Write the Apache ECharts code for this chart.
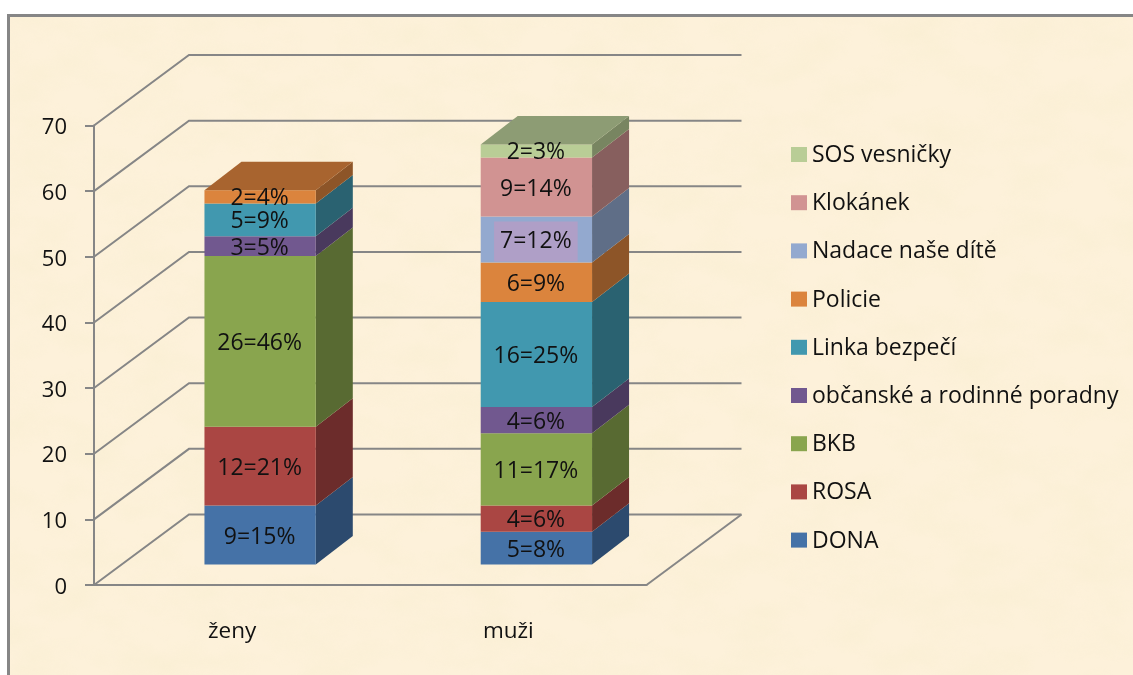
<!DOCTYPE html>
<html><head><meta charset="utf-8">
<style>
html,body{margin:0;padding:0;background:#fff;width:1133px;height:675px;overflow:hidden}
#paper{position:absolute;left:7px;top:14px;width:1126px;height:661px;box-sizing:border-box;border-left:3px solid #868686;border-top:3px solid #868686;background-color:#FDF1DA;
background-image:url("data:image/svg+xml,%3Csvg xmlns='http://www.w3.org/2000/svg' width='1126' height='661'%3E%3Cfilter id='n' x='0' y='0' width='100%25' height='100%25'%3E%3CfeTurbulence type='fractalNoise' baseFrequency='0.018 0.03' numOctaves='4' seed='7'/%3E%3CfeColorMatrix type='matrix' values='0 0 0 0 0.93  0 0 0 0 0.85  0 0 0 0 0.62  1.5 0 0 0 -0.55'/%3E%3C/filter%3E%3Crect width='1126' height='661' filter='url(%23n)' opacity='0.55'/%3E%3C/svg%3E")}
#main{position:absolute;left:0;top:0;width:1133px;height:675px}
</style>
<script src="https://cdn.jsdelivr.net/npm/echarts@6/dist/echarts.min.js"></script>
</head><body>
<div id="paper"></div><div id="main"></div>
<script>
const categories = ['ženy', 'muži'];
const seriesNames = ['DONA','ROSA','BKB','občanské a rodinné poradny','Linka bezpečí','Policie','Nadace naše dítě','Klokánek','SOS vesničky'];
const legendOrder = ['SOS vesničky','Klokánek','Nadace naše dítě','Policie','Linka bezpečí','občanské a rodinné poradny','BKB','ROSA','DONA'];
const zenyValues = [9, 12, 26, 3, 5, 2, 0, 0, 0];
const muziValues = [5, 4, 11, 4, 16, 6, 7, 9, 2];
const zenyLabels = ['9=15%','12=21%','26=46%','3=5%','5=9%','2=4%','','',''];
const muziLabels = ['5=8%','4=6%','11=17%','4=6%','16=25%','6=9%','7=12%','9=14%','2=3%'];
const yTicks = [0,10,20,30,40,50,60,70];
const frontColors = ['#4572A7','#AA4643','#89A54E','#71588F','#4198AF','#DB843D','#93A9CF','#D19392','#B9CD96'];
const sideColors = ['#2C4A6E','#6C2C2B','#586A32','#49395D','#2A6271','#8D5528','#5F6E87','#875F5E','#788561'];
const topColors = ['#365A85','#84372F','#6D8340','#594672','#337A8C','#A8642F','#7485A4','#A37372','#8D9C74'];

const FONT = '"Open Sans", "Noto Sans", sans-serif';
const wallDX = 95, wallDY = 70.5;      // depth of the floor and walls
const barDX = 37, barDY = 28.5;        // depth of a bar
const barShiftX = 28, barShiftY = 20.5; // bars stand in the middle of the floor
const barRatio = 0.403;
const GRAY = '#868686';

function wallItem(params, api) {
  const cs = params.coordSys;
  const v = api.value(0);
  const y = api.coord([0, v])[1];
  const x0 = cs.x;
  const children = [{
    type: 'polyline',
    shape: { points: [[x0, y], [x0 + wallDX, y - wallDY], [x0 + cs.width + wallDX, y - wallDY]] },
    style: { stroke: GRAY, lineWidth: 2, fill: 'none' }
  }];
  if (v === 0) {
    children.push({
      type: 'line',
      shape: { x1: x0 + cs.width, y1: y, x2: x0 + cs.width + wallDX, y2: y - wallDY },
      style: { stroke: GRAY, lineWidth: 2 }
    });
  }
  return { type: 'group', children };
}

function barItem(si) {
  return function (params, api) {
    const cat = api.value(0), base = api.value(1), top = api.value(2), isTop = api.value(3);
    const label = cat === 0 ? zenyLabels[si] : muziLabels[si];
    const c = api.coord([cat, base]);
    const t = api.coord([cat, top]);
    const w = api.size([1, 0])[0] * barRatio;
    const x1 = c[0] + barShiftX - w / 2, x2 = x1 + w;
    const yb = c[1] - barShiftY, yt = t[1] - barShiftY;
    const ch = [
      { type: 'polygon', shape: { points: [[x2, yb], [x2 + barDX, yb - barDY], [x2 + barDX, yt - barDY], [x2, yt]] }, style: { fill: sideColors[si] } },
      { type: 'rect', shape: { x: x1, y: yt, width: w, height: yb - yt }, style: { fill: frontColors[si] } }
    ];
    if (isTop) {
      ch.push({ type: 'polygon', shape: { points: [[x1, yt], [x2, yt], [x2 + barDX, yt - barDY], [x1 + barDX, yt - barDY]] }, style: { fill: topColors[si] } });
    }
    const ts = { text: label, x: (x1 + x2) / 2 - 0.5, y: (yt + yb) / 2 + 2, align: 'center', verticalAlign: 'middle', fill: '#111', font: '23px ' + FONT };
    if (label === '7=12%') { ts.backgroundColor = '#AF9FC7'; ts.padding = [8, 6, 9, 6]; }
    ch.push({ type: 'text', style: ts });
    return { type: 'group', children: ch };
  };
}

const allValues = [zenyValues, muziValues];
const wallSeries = { type: 'custom', name: 'walls', silent: true, z: 1, renderItem: wallItem, data: yTicks.map(v => [v]), encode: { y: 0 }, animation: false };
const barSeries = seriesNames.map((name, si) => ({
  type: 'custom', name, z: 2, silent: true, animation: false,
  itemStyle: { color: frontColors[si] },
  renderItem: barItem(si),
  encode: { x: 0, y: [1, 2] },
  data: allValues.map((vals, cat) => {
    if (!vals[si]) return null;
    const base = vals.slice(0, si).reduce((a, b) => a + b, 0);
    const isTop = vals.slice(si + 1).every(v => !v) ? 1 : 0;
    return [cat, base, base + vals[si], isTop];
  }).filter(Boolean)
}));

const chart = echarts.init(document.getElementById('main'), null, { renderer: 'canvas' });
chart.setOption({
  animation: false,
  backgroundColor: 'transparent',
  textStyle: { fontFamily: FONT },
  grid: { left: 94, right: 486.5, top: 125.5, bottom: 90, containLabel: false },
  legend: {
    data: legendOrder.map(n => ({ name: n, icon: 'rect' })),
    orient: 'vertical', left: 791, top: 142,
    itemWidth: 16, itemHeight: 15, itemGap: 23.2, padding: 0,
    selectedMode: false,
    formatter: '{a|{name}}',
    textStyle: { fontFamily: FONT, fontSize: 23, color: '#111',
      rich: { a: { fontFamily: FONT, fontSize: 23, color: '#111', lineHeight: 23, padding: [2, 0, 0, 0] } } }
  },
  xAxis: {
    type: 'category', data: categories,
    axisLine: { lineStyle: { color: GRAY, width: 2 } },
    axisTick: { length: 9, lineStyle: { color: GRAY, width: 2 } },
    axisLabel: { margin: 35, fontSize: 22.5, color: '#111', fontFamily: FONT },
    splitLine: { show: false }
  },
  yAxis: {
    type: 'value', min: 0, max: 70, interval: 10,
    axisLine: { show: true, lineStyle: { color: GRAY, width: 2 } },
    axisTick: { show: true, length: 9, lineStyle: { color: GRAY, width: 2 } },
    axisLabel: { margin: 27, color: '#111', formatter: '{a|{value}}',
      rich: { a: { fontFamily: FONT, fontSize: 22, color: '#111', lineHeight: 22, padding: [5, 0, 0, 0] } } },
    splitLine: { show: false }
  },
  series: [wallSeries].concat(barSeries)
});
</script>
</body></html>
